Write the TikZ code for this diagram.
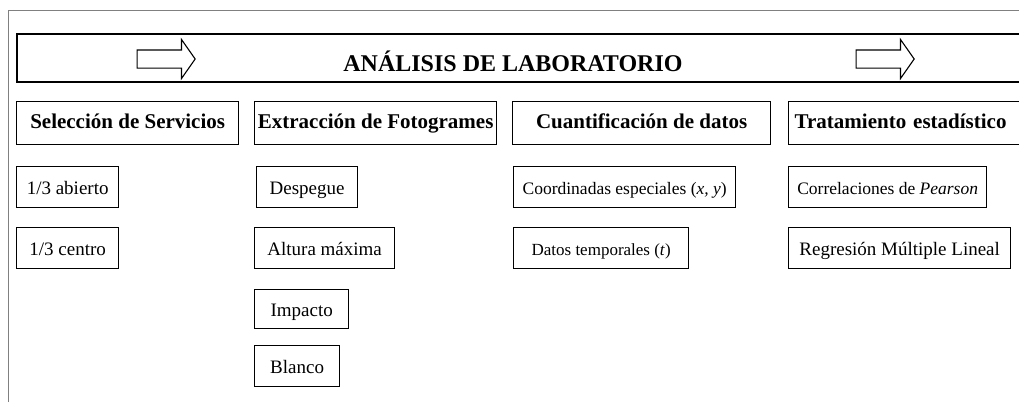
\documentclass[tikz,border=0pt]{standalone}
\usepackage{fontspec}
\setmainfont{Liberation Serif}
\usetikzlibrary{positioning,shapes.arrows}

\begin{document}
\begin{tikzpicture}[
    x = 1pt,
    y = -1pt,
    box/.style={draw, line width=1.3pt, anchor=north west, inner sep=0pt,
        text height=17pt, text depth=2pt,
        font=\fontsize{19}{22}\selectfont},
    head/.style={box, minimum height=43pt, text height=14pt, text depth=3pt,
        font=\fontsize{21}{25}\selectfont\bfseries},
    item/.style={box, minimum height=41pt},
    small/.style={item, font=\fontsize{17.5}{20}\selectfont},
    bigarrow/.style={single arrow, draw, line width=1.1pt, inner sep=8.5pt,
        minimum height=58pt, single arrow head extend=10.5pt,
        single arrow tip angle=110}
]
    \useasboundingbox (0,0) rectangle (1019,402);
    \clip (0,0) rectangle (1019,402);
    \draw[gray, line width=0.8pt] (8,402) -- (8,10) -- (1019,10);

    % banner
    \node[draw, line width=1.5pt, anchor=north west, minimum width=1040pt,
        minimum height=48pt] (banner) at (16,33) {};
    \node[anchor=base, font=\fontsize{24}{28}\selectfont\bfseries] (titulo) at (513,71)
        {ANÁLISIS DE LABORATORIO};
    \node[bigarrow] (flechaA) at (163,59) {};
    \node[bigarrow] (flechaB) at (882,59) {};

    % columns
    \node[head, minimum width=222pt] (seleccion) at (16,101) {Selección de Servicios};
    \node[head, minimum width=242pt] (extraccion) at (254,101) {Extracción de Fotogrames};
    \node[head, minimum width=258pt] (cuantif) at (512,101) {Cuantificación de datos};
    \node[head, inner xsep=6pt, text width=238pt, align=left] (tratam) at (788,101)
        {Tratamiento estadístico};

    \node[item, minimum width=102pt] (abierto) at (16,166) {1/3 abierto};
    \node[item, minimum width=102pt] (centro) at (16,227) {1/3 centro};

    \node[item, minimum width=101pt] (despegue) at (256,166) {Despegue};
    \node[item, minimum width=140pt] (altura) at (254,227) {Altura máxima};
    \node[item, minimum width=94pt, minimum height=39pt] (impacto) at (254,289) {Impacto};
    \node[item, minimum width=85pt] (blanco) at (254,345) {Blanco};

    \node[small, minimum width=222pt] (coord) at (513,166)
        {Coordinadas especiales (\textit{x, y})};
    \node[small, minimum width=175pt, font=\fontsize{17}{20}\selectfont] (tiempo) at (513,227)
        {Datos temporales (\textit{t})};

    \node[item, minimum width=198pt, font=\fontsize{17.5}{20}\selectfont] (pearson) at (788,166)
        {Correlaciones de \textit{Pearson}};
    \node[item, minimum width=222pt] (regresion) at (788,227)
        {Regresión Múltiple Lineal};
\end{tikzpicture}
\end{document}
